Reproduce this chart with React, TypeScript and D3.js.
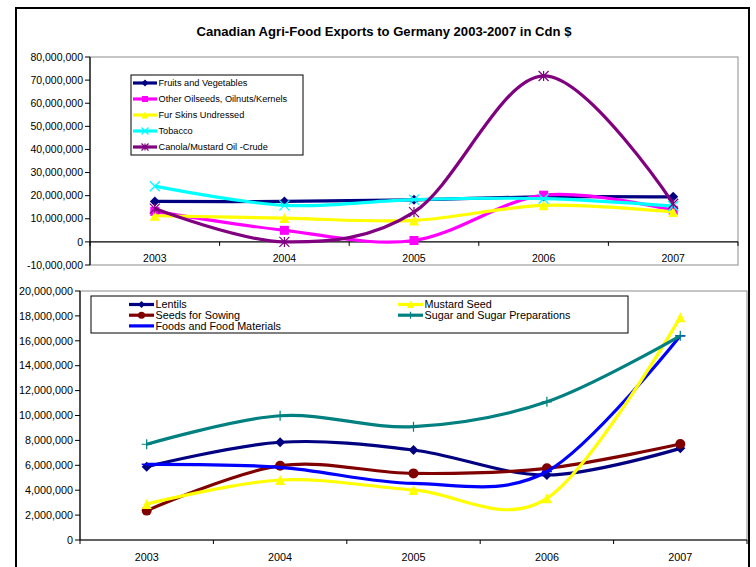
import React from "react";
import * as d3 from "d3";

const years = ["2003", "2004", "2005", "2006", "2007"];

const topTicks = [-10000000, 0, 10000000, 20000000, 30000000, 40000000, 50000000, 60000000, 70000000, 80000000];
const fruitsVeg = [17500000, 17500000, 18200000, 19500000, 19500000];
const otherOilseeds = [13200000, 5000000, 600000, 20200000, 13700000];
const furSkins = [11300000, 10300000, 9300000, 15800000, 12900000];
const tobacco = [24100000, 15800000, 18300000, 18700000, 15500000];
const canolaOil = [14400000, 0, 12900000, 71800000, 16500000];

const bottomTicks = [0, 2000000, 4000000, 6000000, 8000000, 10000000, 12000000, 14000000, 16000000, 18000000, 20000000];
const lentils = [5890000, 7850000, 7230000, 5220000, 7360000];
const seedsSowing = [2360000, 5970000, 5350000, 5760000, 7710000];
const foodsMaterials = [6080000, 5840000, 4550000, 5500000, 16400000];
const mustardSeed = [2890000, 4820000, 4020000, 3350000, 17900000];
const sugarPreps = [7690000, 9980000, 9100000, 11100000, 16400000];

type Marker = "diamond" | "square" | "triangle" | "x" | "asterisk" | "circle" | "plus" | "dash";
interface Series { name: string; values: number[]; color: string; marker: Marker; }

const topSeries: Series[] = [
  { name: "Fruits and Vegetables", values: fruitsVeg, color: "#000080", marker: "diamond" },
  { name: "Other Oilseeds, Oilnuts/Kernels", values: otherOilseeds, color: "#FF00FF", marker: "square" },
  { name: "Fur Skins Undressed", values: furSkins, color: "#FFFF00", marker: "triangle" },
  { name: "Tobacco", values: tobacco, color: "#00FFFF", marker: "x" },
  { name: "Canola/Mustard Oil -Crude", values: canolaOil, color: "#800080", marker: "asterisk" },
];

const bottomSeries: Series[] = [
  { name: "Lentils", values: lentils, color: "#000080", marker: "diamond" },
  { name: "Seeds for Sowing", values: seedsSowing, color: "#800000", marker: "circle" },
  { name: "Foods and Food Materials", values: foodsMaterials, color: "#0000FF", marker: "dash" },
  { name: "Mustard Seed", values: mustardSeed, color: "#FFFF00", marker: "triangle" },
  { name: "Sugar and Sugar Preparations", values: sugarPreps, color: "#008080", marker: "plus" },
];

const FONT = "'Liberation Sans', Arial, sans-serif";
const fmt = (v: number) => d3.format(",")(v).replace("\u2212", "-");

function MarkerShape({ type, x, y, color, s = 5 }: { type: Marker; x: number; y: number; color: string; s?: number }) {
  switch (type) {
    case "diamond":
      return <path d={`M${x},${y - s}L${x + s},${y}L${x},${y + s}L${x - s},${y}Z`} fill={color} />;
    case "square":
      return <rect x={x - s + 0.5} y={y - s + 0.5} width={2 * s - 1} height={2 * s - 1} fill={color} />;
    case "triangle":
      return <path d={`M${x},${y - s}L${x + s},${y + s}L${x - s},${y + s}Z`} fill={color} />;
    case "circle":
      return <circle cx={x} cy={y} r={s} fill={color} />;
    case "x":
      return <path d={`M${x - s},${y - s}L${x + s},${y + s}M${x - s},${y + s}L${x + s},${y - s}`} stroke={color} strokeWidth={1.3} />;
    case "asterisk":
      return <path d={`M${x - s},${y - s}L${x + s},${y + s}M${x - s},${y + s}L${x + s},${y - s}M${x},${y - s}L${x},${y + s}`} stroke={color} strokeWidth={1.2} />;
    case "plus":
      return <path d={`M${x - s},${y}L${x + s},${y}M${x},${y - s}L${x},${y + s}`} stroke={color} strokeWidth={1.2} />;
    case "dash":
      return <path d={`M${x - s},${y}L${x + s},${y}`} stroke={color} strokeWidth={1.5} />;
  }
}

function Panel({ series, ticks, domain, left, right, top, bottom, zeroAxis, tickFont, children }: any) {
  const x = d3.scalePoint<string>().domain(years).range([left, right]).padding(0.5);
  const y = d3.scaleLinear().domain(domain).range([bottom, top]);
  const step = x.step();
  const axisY = y(0);
  const line = d3.line<number>()
    .x((_, i) => x(years[i]) as number)
    .y((d) => y(d))
    .curve(d3.curveCardinal.tension(0));
  const boundaries = d3.range(0, years.length + 1).map((i) => left + i * step);
  return (
    <g>
      <rect x={left} y={top} width={right - left} height={bottom - top} fill="white" stroke="#8c8c8c" strokeWidth={1} />
      <line x1={left} x2={left} y1={top} y2={bottom} stroke="#000" strokeWidth={1.2} />
      {ticks.map((t: number) => (
        <g key={t}>
          <line x1={left - 5} x2={left} y1={y(t)} y2={y(t)} stroke="#000" strokeWidth={1} />
          <text x={left - 7} y={y(t)} dy="0.35em" textAnchor="end" fontSize={tickFont} fontFamily={FONT} fill="#000">{fmt(t)}</text>
        </g>
      ))}
      <line x1={left} x2={right} y1={axisY} y2={axisY} stroke="#000" strokeWidth={1.2} />
      {boundaries.map((bx: number, i: number) => (
        <line key={i} x1={bx} x2={bx} y1={axisY} y2={axisY + 4} stroke="#000" strokeWidth={1} />
      ))}
      {years.map((yr) => (
        <text key={yr} x={x(yr)} y={zeroAxis} dy="0.35em" textAnchor="middle" fontSize={tickFont} fontFamily={FONT} fill="#000">{yr}</text>
      ))}
      {series.map((s: Series) => (
        <g key={s.name}>
          <path d={line(s.values) || ""} fill="none" stroke={s.color} strokeWidth={3.2} strokeLinejoin="round" />
          {s.values.map((v, i) => (
            <MarkerShape key={i} type={s.marker} x={x(years[i]) as number} y={y(v)} color={s.color} />
          ))}
        </g>
      ))}
      {children}
    </g>
  );
}

function LegendItem({ s, x, y, len, fontSize }: { s: Series; x: number; y: number; len: number; fontSize: number }) {
  return (
    <g>
      <line x1={x} x2={x + len} y1={y} y2={y} stroke={s.color} strokeWidth={3.2} />
      <MarkerShape type={s.marker} x={x + len / 2} y={y} color={s.color} s={3.5} />
      <text x={x + len + 1.5} y={y} dy="0.35em" fontSize={fontSize} fontFamily={FONT} fill="#000">{s.name}</text>
    </g>
  );
}

export default function App() {
  return (
    <svg width={756} height={567} style={{ position: "absolute", left: 0, top: 0, background: "white" }}>
      <rect x={0} y={0} width={756} height={567} fill="white" />
      <path d="M16,575 L16,8 L749,8 L749,575" fill="none" stroke="#000" strokeWidth={2} />
      <text x={384} y={31} dy="0.35em" textAnchor="middle" fontSize={13.1} fontWeight="bold" fontFamily={FONT} fill="#000">
        Canadian Agri-Food Exports to Germany 2003-2007 in Cdn $
      </text>
      <Panel series={topSeries} ticks={topTicks} domain={[-10000000, 80000000]} left={90} right={738} top={57} bottom={265} zeroAxis={258} tickFont={10.5}>
        <rect x={131} y={75} width={172} height={80} fill="white" stroke="#000" strokeWidth={1} />
        {topSeries.map((s, i) => (
          <LegendItem key={s.name} s={s} x={133} y={83 + i * 16} len={24} fontSize={9.2} />
        ))}
      </Panel>
      <Panel series={bottomSeries} ticks={bottomTicks} domain={[0, 20000000]} left={80} right={747} top={291} bottom={540} zeroAxis={557} tickFont={10.8}>
        <rect x={91} y={296} width={537} height={37} fill="white" stroke="#000" strokeWidth={1} />
        {bottomSeries.map((s, i) => (
          <LegendItem key={s.name} s={s} x={i < 3 ? 129 : 398} y={304.5 + (i % 3) * 10.7} len={25} fontSize={10.8} />
        ))}
      </Panel>
    </svg>
  );
}
